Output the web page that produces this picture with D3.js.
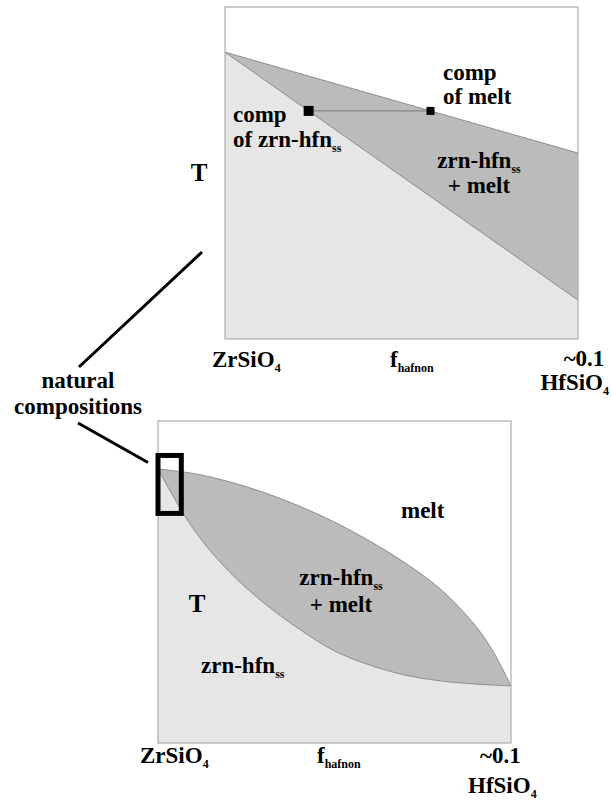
<!DOCTYPE html>
<html>
<head>
<meta charset="utf-8">
<script src="https://cdn.jsdelivr.net/npm/d3@7/dist/d3.min.js"></script>
</head>
<body style="margin:0">
<svg id="chart" width="611" height="803" style="display:block"></svg>
<script>
// Hafnon fraction sampled along the full zircon–hafnon binary
const fHafnon = [0, 0.01, 0.02, 0.03, 0.04, 0.05, 0.06, 0.07, 0.08, 0.09, 0.095, 0.10];
// Liquidus and solidus temperatures (relative units, 0–100)
const liquidusT = [85.1, 83.7, 81.2, 77.8, 73.6, 68.6, 62.7, 55.9, 47.8, 36.3, 28.3, 17.7];
const solidusT  = [85.1, 66.5, 53.4, 43.5, 35.4, 28.6, 24.2, 21.1, 19.3, 18.3, 18.0, 17.7];

// Enlarged view near the natural compositions: straight-line loop
const zoomF = [0, 0.10];
const zoomLiquidusT = [86.4, 56.0];
const zoomSolidusT  = [86.4, 11.7];
const tieLineT = 68.7;

// Extent of the natural compositions on the full diagram
const naturalF = [0, 0.0066];
const naturalT = [71.3, 89.3];

const endLabels = ["ZrSiO", "~0.1", "HfSiO"];

const FONT = "Liberation Serif";
const svg = d3.select("#chart");
const colLight = "#e6e6e6", colDark = "#bbbbbb", colLine = "#8c8c8c", colBox = "#b3b3b3";

function panel(g, x, y, f, liq, sol) {
  const pts = f.map((d, i) => ({ f: d, liq: liq[i], sol: sol[i] }));
  const curve = f.length > 2 ? d3.curveCatmullRom.alpha(0.5) : d3.curveLinear;
  const [x0, x1] = x.range(), [y0, y1] = y.range();
  g.append("rect").attr("x", x0).attr("y", y1).attr("width", x1 - x0).attr("height", y0 - y1).attr("fill", "#ffffff");
  g.append("path").datum(pts)
    .attr("d", d3.area().curve(curve).x(d => x(d.f)).y0(y(0)).y1(d => y(d.liq)))
    .attr("fill", colDark);
  g.append("path").datum(pts)
    .attr("d", d3.area().curve(curve).x(d => x(d.f)).y0(y(0)).y1(d => y(d.sol)))
    .attr("fill", colLight);
  ["liq", "sol"].forEach(k => {
    g.append("path").datum(pts)
      .attr("d", d3.line().curve(curve).x(d => x(d.f)).y(d => y(d[k])))
      .attr("fill", "none").attr("stroke", colLine).attr("stroke-width", 1);
  });
  g.append("rect").attr("x", x0).attr("y", y1).attr("width", x1 - x0).attr("height", y0 - y1)
    .attr("fill", "none").attr("stroke", colBox).attr("stroke-width", 1.3);
}

function textEl(y, size, str) {
  return svg.append("text").attr("x", 0).attr("y", y)
    .attr("font-size", size).attr("font-weight", "bold").attr("font-family", FONT)
    .style("font-family", FONT).style("font-weight", "bold")
    .text(str);
}

// bold serif label, with an optional small subscript set after the main text
function label(x, y, main, sub, anchor, size) {
  const t = textEl(y, size || 23, main);
  const w = t.node().getComputedTextLength();
  let total = w, s = null;
  if (sub) {
    s = textEl(y + 5, 12, sub);
    total += s.node().getComputedTextLength();
  }
  const x0 = anchor === "middle" ? x - total / 2 : anchor === "end" ? x - total : x;
  t.attr("x", x0);
  if (s) s.attr("x", x0 + w);
}

// ---------- upper panel: enlarged view ----------
const xTop = d3.scaleLinear().domain([0, 0.10]).range([225, 578]);
const yTop = d3.scaleLinear().domain([0, 100]).range([339, 7]);
panel(svg.append("g"), xTop, yTop, zoomF, zoomLiquidusT, zoomSolidusT);

// tie line between coexisting solid and melt
const fSolid = d3.scaleLinear().domain(zoomSolidusT).range(zoomF)(tieLineT);
const fMelt  = d3.scaleLinear().domain(zoomLiquidusT).range(zoomF)(tieLineT);
svg.append("line").attr("x1", xTop(fSolid)).attr("x2", xTop(fMelt))
  .attr("y1", yTop(tieLineT)).attr("y2", yTop(tieLineT))
  .attr("stroke", "#7a7a7a").attr("stroke-width", 1);
[[fSolid, 10], [fMelt, 8]].forEach(([f, s]) => {
  svg.append("rect").attr("x", xTop(f) - s / 2).attr("y", yTop(tieLineT) - s / 2)
    .attr("width", s).attr("height", s).attr("fill", "#000");
});

label(443, 80, "comp");
label(443, 104, "of melt");
label(233, 122, "comp");
label(233, 147, "of zrn-hfn", "ss");
label(479, 168, "zrn-hfn", "ss", "middle");
label(479, 193, "+ melt", null, "middle");
label(199, 181, "T", null, "middle", 25);
label(212, 367, endLabels[0], "4");
label(390, 367, "f", "hafnon");
label(584, 366, endLabels[1], null, "middle");
label(609, 390, endLabels[2], "4", "end");

// ---------- lower panel: full binary loop ----------
const xBot = d3.scaleLinear().domain([0, 0.10]).range([158, 511]);
const yBot = d3.scaleLinear().domain([0, 100]).range([743, 421]);
panel(svg.append("g"), xBot, yBot, fHafnon, liquidusT, solidusT);

label(401, 518, "melt");
label(341, 585, "zrn-hfn", "ss", "middle");
label(341, 612, "+ melt", null, "middle");
label(201, 673, "zrn-hfn", "ss");
label(197, 612, "T", null, "middle", 25);
label(140, 763, endLabels[0], "4");
label(317, 763, "f", "hafnon");
label(480, 763, endLabels[1]);
label(468, 793, endLabels[2], "4");

// box marking the natural compositions
svg.append("rect")
  .attr("x", xBot(naturalF[0])).attr("y", yBot(naturalT[1]))
  .attr("width", xBot(naturalF[1]) - xBot(naturalF[0]))
  .attr("height", yBot(naturalT[0]) - yBot(naturalT[1]))
  .attr("fill", "none").attr("stroke", "#000").attr("stroke-width", 5);

// callout
label(78, 388, "natural", null, "middle");
label(78, 414, "compositions", null, "middle");
svg.append("line").attr("x1", 79).attr("y1", 367).attr("x2", 202).attr("y2", 252)
  .attr("stroke", "#000").attr("stroke-width", 3);
svg.append("line").attr("x1", 78).attr("y1", 423).attr("x2", xBot(naturalF[0]) - 10).attr("y2", yBot(naturalT[1]) + 7)
  .attr("stroke", "#000").attr("stroke-width", 3);
</script>
</body>
</html>
